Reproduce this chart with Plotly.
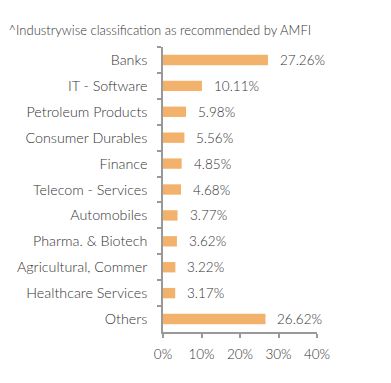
import plotly.graph_objects as go

categories = ["Banks", "IT - Software", "Petroleum Products", "Consumer Durables", "Finance",
              "Telecom - Services", "Automobiles", "Pharma. & Biotech", "Agricultural, Commer",
              "Healthcare Services", "Others"]
values = [27.26, 10.11, 5.98, 5.56, 4.85, 4.68, 3.77, 3.62, 3.22, 3.17, 26.62]
labels = [f"{v:.2f}%" for v in values]
x_ticks = [0, 10, 20, 30, 40]
x_tick_labels = ["0%", "10%", "20%", "30%", "40%"]

FONT = "Lato"
W, H = 383, 375  # page body adds an 8px offset
fig = go.Figure()
fig.add_trace(go.Bar(
    x=values, y=categories, orientation="h",
    marker=dict(color="#F2B26C", line=dict(width=0)),
    width=0.4,
    hoverinfo="skip",
))
for c, v, t in zip(categories, values, labels):
    fig.add_annotation(x=v, y=c, text=t, xanchor="left", xshift=10, showarrow=False,
                       font=dict(family=FONT, size=13.5, color="#333333", weight=300))

fig.update_layout(
    width=W, height=H,
    margin=dict(l=155, r=74, t=39, b=51),
    paper_bgcolor="white", plot_bgcolor="white",
    showlegend=False,
    font=dict(family=FONT, size=13, color="#333333", weight=300),
    title=dict(text="^Industrywise classification as recommended by AMFI",
               x=0.5/W, xref="container", xanchor="left", y=1 - 22/H, yref="container", yanchor="middle",
               font=dict(family=FONT, size=13, color="#333333", weight=300)),
)
fig.update_xaxes(range=[0, 40], tickvals=x_ticks, ticktext=x_tick_labels,
                 showgrid=False, zeroline=False, showline=True, linecolor="#999999", linewidth=1.5,
                 ticks="outside", ticklen=4, tickcolor="#999999", tickwidth=1.5,
                 ticklabelstandoff=5, automargin=False,
                 tickfont=dict(family=FONT, size=13.5, color="#333333", weight=300),
                 fixedrange=True)
fig.update_yaxes(autorange="reversed", showgrid=False, showline=True, linecolor="#999999", linewidth=1.5,
                 ticks="outside", ticklen=4, tickcolor="#999999", tickwidth=1.5,
                 tickson="boundaries", ticklabelstandoff=11, automargin=False,
                 tickfont=dict(family=FONT, size=14.3, color="#333333", weight=300),
                 fixedrange=True)

fig.write_html("out.html")
